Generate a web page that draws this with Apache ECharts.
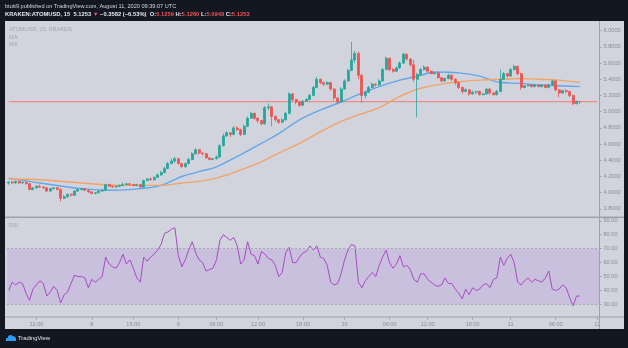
<!DOCTYPE html>
<html>
<head>
<meta charset="utf-8">
<script src="https://cdn.jsdelivr.net/npm/echarts@6/dist/echarts.min.js"></script>
<style>
html,body{margin:0;padding:0;background:#131722;}
#c{width:628px;height:348px;}
</style>
</head>
<body>
<div id="c"></div>
<script>
// ---- data ----
// candles: [open, close, low, high]
var candles = [
[4.12,4.13,4.10,4.14],[4.13,4.12,4.11,4.15],[4.12,4.14,4.11,4.15],[4.14,4.12,4.11,4.15],[4.12,4.13,4.11,4.14],
[4.13,4.11,4.10,4.14],[4.11,4.04,4.03,4.12],[4.04,4.06,4.03,4.07],[4.06,4.08,4.05,4.09],[4.08,4.07,4.06,4.10],
[4.07,4.06,4.05,4.08],[4.06,4.02,4.01,4.07],[4.02,4.05,4.01,4.06],[4.05,4.06,4.04,4.07],[4.06,4.04,4.03,4.07],
[4.04,3.93,3.89,4.05],[3.93,3.95,3.92,3.97],[3.95,3.98,3.94,3.99],[3.98,3.97,3.95,3.99],[3.97,4.02,3.96,4.03],
[4.02,4.04,4.01,4.05],[4.04,4.05,4.03,4.06],[4.05,4.03,4.02,4.06],[4.03,4.01,4.00,4.04],[4.01,3.99,3.98,4.02],
[3.99,4.00,3.98,4.01],[4.00,4.02,3.99,4.03],[4.02,4.03,4.01,4.04],[4.03,4.10,4.02,4.11],[4.10,4.08,4.07,4.11],
[4.08,4.07,4.06,4.09],[4.07,4.08,4.06,4.09],[4.08,4.09,4.07,4.10],[4.09,4.10,4.08,4.13],[4.10,4.11,4.09,4.12],
[4.11,4.10,4.09,4.12],[4.10,4.09,4.08,4.11],[4.09,4.10,4.08,4.11],[4.10,4.07,4.06,4.11],[4.07,4.15,4.06,4.16],
[4.15,4.17,4.14,4.18],[4.17,4.16,4.15,4.19],[4.16,4.19,4.15,4.20],[4.19,4.22,4.18,4.24],[4.22,4.25,4.21,4.27],
[4.25,4.30,4.24,4.32],[4.30,4.36,4.29,4.38],[4.36,4.39,4.35,4.42],[4.39,4.42,4.37,4.44],[4.42,4.36,4.35,4.43],
[4.36,4.32,4.31,4.37],[4.32,4.36,4.31,4.37],[4.36,4.41,4.35,4.43],[4.41,4.48,4.40,4.50],[4.48,4.53,4.47,4.55],
[4.53,4.49,4.47,4.54],[4.49,4.48,4.46,4.50],[4.48,4.43,4.42,4.49],[4.43,4.41,4.40,4.44],[4.41,4.42,4.40,4.43],
[4.42,4.44,4.41,4.46],[4.44,4.58,4.43,4.60],[4.58,4.70,4.57,4.73],[4.70,4.74,4.69,4.76],[4.74,4.72,4.69,4.75],
[4.72,4.80,4.71,4.82],[4.80,4.78,4.76,4.82],[4.78,4.72,4.70,4.79],[4.72,4.82,4.71,4.84],[4.82,4.92,4.81,4.94],
[4.92,4.98,4.91,5.00],[4.98,4.92,4.90,4.99],[4.92,4.89,4.86,4.93],[4.89,4.85,4.83,4.90],[4.85,5.05,4.84,5.07],
[5.05,5.06,5.02,5.10],[5.06,4.94,4.82,5.07],[4.94,4.90,4.88,4.96],[4.90,4.87,4.85,4.91],[4.87,4.90,4.86,4.92],
[4.90,4.98,4.89,5.00],[4.98,5.22,4.97,5.24],[5.22,5.15,5.13,5.23],[5.15,5.12,5.09,5.16],[5.12,5.08,5.06,5.13],
[5.08,5.13,5.07,5.14],[5.13,5.15,5.12,5.17],[5.15,5.20,5.14,5.22],[5.20,5.30,5.19,5.32],[5.30,5.40,5.29,5.43],
[5.40,5.36,5.34,5.41],[5.36,5.34,5.32,5.37],[5.34,5.36,5.33,5.38],[5.36,5.28,5.26,5.37],[5.28,5.17,5.14,5.29],
[5.17,5.12,5.09,5.18],[5.12,5.28,5.11,5.30],[5.28,5.38,5.27,5.40],[5.38,5.51,5.37,5.53],[5.51,5.64,5.50,5.86],
[5.64,5.72,5.60,5.75],[5.72,5.45,5.40,5.74],[5.45,5.20,5.11,5.46],[5.20,5.24,5.17,5.26],[5.24,5.30,5.23,5.32],
[5.30,5.34,5.29,5.36],[5.34,5.33,5.31,5.35],[5.33,5.38,5.32,5.40],[5.38,5.52,5.37,5.54],[5.52,5.66,5.51,5.68],
[5.66,5.52,5.50,5.67],[5.52,5.50,5.48,5.54],[5.50,5.54,5.49,5.56],[5.54,5.60,5.53,5.62],[5.60,5.71,5.59,5.73],
[5.71,5.65,5.63,5.72],[5.65,5.58,5.56,5.66],[5.58,5.40,5.37,5.64],[5.40,5.46,4.93,5.48],[5.46,5.52,5.44,5.54],
[5.52,5.55,5.51,5.57],[5.55,5.50,5.48,5.56],[5.50,5.47,5.46,5.51],[5.47,5.48,5.46,5.49],[5.48,5.42,5.41,5.49],
[5.42,5.38,5.36,5.43],[5.38,5.41,5.37,5.42],[5.41,5.45,5.40,5.47],[5.45,5.40,5.38,5.46],[5.40,5.36,5.33,5.41],
[5.36,5.30,5.28,5.37],[5.30,5.25,5.22,5.31],[5.25,5.27,5.24,5.29],[5.27,5.22,5.20,5.28],[5.22,5.24,5.21,5.26],
[5.24,5.25,5.22,5.26],[5.25,5.21,5.20,5.26],[5.21,5.22,5.20,5.23],[5.22,5.28,5.21,5.29],[5.28,5.23,5.21,5.29],
[5.23,5.21,5.20,5.24],[5.21,5.25,5.20,5.27],[5.25,5.40,5.24,5.52],[5.40,5.47,5.39,5.49],[5.47,5.44,5.42,5.48],
[5.44,5.52,5.43,5.54],[5.52,5.56,5.51,5.58],[5.56,5.47,5.45,5.57],[5.47,5.30,5.27,5.48],[5.30,5.32,5.29,5.33],
[5.32,5.33,5.31,5.34],[5.33,5.31,5.30,5.34],[5.31,5.33,5.30,5.34],[5.33,5.31,5.30,5.34],[5.31,5.33,5.30,5.34],
[5.33,5.30,5.29,5.34],[5.30,5.33,5.29,5.35],[5.33,5.38,5.32,5.39],[5.38,5.27,5.25,5.39],[5.27,5.23,5.18,5.28],
[5.23,5.26,5.22,5.27],[5.26,5.25,5.23,5.28],[5.25,5.20,5.18,5.26],[5.20,5.10,5.08,5.21],[5.10,5.1259,5.09,5.14],
[5.1259,5.1253,5.0948,5.1260]
];
// moving averages: [candle index, value]
var maFast = [[0,4.18],[9,4.12],[21,4.05],[30,4.03],[38,4.05],[44,4.09],[50,4.20],[55,4.26],[60,4.32],[67,4.47],
[73,4.61],[78,4.73],[84,4.90],[90,5.02],[96,5.12],[101,5.21],[107,5.31],[113,5.39],[119,5.45],[123,5.49],
[130,5.48],[136,5.44],[142,5.36],[148,5.35],[153,5.33],[159,5.32],[165,5.31]];
var maSlow = [[0,4.17],[9,4.16],[21,4.12],[32,4.09],[44,4.09],[50,4.12],[55,4.14],[60,4.18],[67,4.28],[73,4.38],
[78,4.49],[84,4.61],[90,4.75],[96,4.88],[101,4.96],[107,5.05],[113,5.19],[119,5.29],[125,5.34],[130,5.37],
[136,5.39],[142,5.40],[148,5.41],[153,5.40],[159,5.39],[165,5.36]];
var rsi = [40,46,44,46,45,38,33,41,44,47,45,36,39,43,40,31,37,39,45,51,
50,50,49,42,48,46,48,50,64,59,57,56,60,66,59,62,56,49,46,64,
61,64,66,69,73,81,82,84,85,65,57,62,69,75,67,62,60,54,55,56,
62,76,80,78,76,78,72,59,62,75,66,65,59,68,66,63,62,58,50,53,
67,71,60,60,64,67,68,72,69,72,64,63,58,46,44,45,52,62,69,73,
72,46,42,47,50,53,50,58,64,69,60,56,59,65,57,58,55,48,46,52,
52,48,46,44,43,44,49,45,45,41,38,34,41,37,42,40,41,44,45,42,
48,49,64,58,63,66,60,46,44,47,49,46,48,47,46,49,54,41,40,41,
44,42,35,29,36,36];
var slotCount = 171;
var timeLabels = ['12:00','8','15:00','9','06:00','12:00','18:00','10','06:00','12:00','18:00','11','06:00','12'];
var timeLabelSlots = [8,24,36,49,60,72,85,97,110,121,134,145,158,170];
var priceTicks = [3.8,4.0,4.2,4.4,4.6,4.8,5.0,5.2,5.4,5.6,5.8,6.0];
var rsiTicks = [30,40,50,60,70,80,90];
var lastPrice = candles[candles.length-1][1];

// ---- chart ----
var cats = [];
for (var i = 0; i < slotCount; i++) cats.push(String(i));
var labelMap = {};
timeLabelSlots.forEach(function(s, k){ labelMap[s] = timeLabels[k]; });
var priceLine = [[0, lastPrice], [slotCount - 1, lastPrice]];

var FONT = 'Liberation Sans, Arial, sans-serif';
var axisGray = '#8a8d96';
var chart = echarts.init(document.getElementById('c'), null, {renderer:'canvas'});
chart.setOption({
  backgroundColor: '#131722',
  animation: false,
  textStyle: {fontFamily: FONT},
  graphic: [
    {type:'rect', z:-100, shape:{x:5,y:21,width:619,height:308}, style:{fill:'#d1d4dc'}},
    {type:'rect', z:100, shape:{x:5,y:216.5,width:619,height:1.5}, style:{fill:'#9ea1aa'}},
    {type:'rect', z:100, shape:{x:5,y:316.5,width:619,height:1}, style:{fill:'#9ea1aa'}},
    {type:'rect', z:100, shape:{x:599,y:21,width:1,height:308}, style:{fill:'#9ea1aa'}},
    {type:'text', z:100, x:5, y:3, style:{text:'btott9 published on TradingView.com, August 11, 2020 09:39:07 UTC', fill:'#d6d8de', font:'5.6px ' + FONT}},
    {type:'text', z:100, x:5, y:11.5, style:{
      text:'{w|KRAKEN:ATOMUSD, 15  5.1253 }{r|▼}{w| −0.3582 (−6.53%)  O:}{r|5.1259}{w| H:}{r|5.1260}{w| L:}{r|5.0948}{w| C:}{r|5.1253}',
      rich:{
        w:{fill:'#e6e8ee', fontSize:5.8, fontWeight:'bold', fontFamily:FONT},
        r:{fill:'#ef5350', fontSize:5.8, fontWeight:'bold', fontFamily:FONT}
      }}},
    {type:'text', z:100, x:9, y:26, style:{text:'ATOMUSD, 15, KRAKEN', fill:'#a2a5ad', font:'5.6px ' + FONT}},
    {type:'text', z:100, x:9, y:34, style:{text:'MA', fill:'#a2a5ad', font:'5.6px ' + FONT}},
    {type:'text', z:100, x:9, y:41.5, style:{text:'MA', fill:'#a2a5ad', font:'5.6px ' + FONT}},
    {type:'text', z:100, x:9, y:222, style:{text:'RSI', fill:'#a2a5ad', font:'5.6px ' + FONT}},
    {type:'circle', z:100, shape:{cx:10.5,cy:337.5,r:2.6}, style:{fill:'#2e9bf0'}},
    {type:'circle', z:100, shape:{cx:13.5,cy:338.5,r:2.2}, style:{fill:'#2e9bf0'}},
    {type:'rect', z:100, shape:{x:6,y:338,width:10,height:3}, style:{fill:'#2e9bf0'}},
    {type:'text', z:100, x:18, y:335.5, style:{text:'TradingView', fill:'#e6e8ee', font:'5.8px ' + FONT}}
  ],
  grid: [
    {left:7, top:21, width:592, height:196},
    {left:7, top:218, width:592, height:99}
  ],
  xAxis: [
    {type:'category', gridIndex:0, data:cats, boundaryGap:true, show:false},
    {type:'category', gridIndex:1, data:cats, boundaryGap:true,
      axisLine:{show:false},
      axisTick:{show:true, alignWithLabel:true, length:2.5, lineStyle:{color:'#9ea1aa'},
        interval:function(idx){ return labelMap.hasOwnProperty(idx); }},
      axisLabel:{show:true, color:axisGray, fontSize:5.6, margin:4.5, fontFamily:FONT,
        interval:function(idx){ return labelMap.hasOwnProperty(idx); },
        formatter:function(v, idx){ return labelMap.hasOwnProperty(idx) ? labelMap[idx] : ''; }},
      splitLine:{show:false}}
  ],
  yAxis: [
    {type:'value', gridIndex:0, position:'right', min:3.70, max:6.12, scale:true,
      axisLine:{show:false},
      axisTick:{show:true, length:2.5, lineStyle:{color:'#9ea1aa'}, customValues:priceTicks},
      axisLabel:{show:true, color:axisGray, fontSize:5.6, margin:4.5, fontFamily:FONT, customValues:priceTicks,
        formatter:function(v){ return v.toFixed(4); }},
      splitLine:{show:false}},
    {type:'value', gridIndex:1, position:'right', min:21, max:92,
      axisLine:{show:false},
      axisTick:{show:true, length:2.5, lineStyle:{color:'#9ea1aa'}, customValues:rsiTicks},
      axisLabel:{show:true, color:axisGray, fontSize:5.6, margin:4.5, fontFamily:FONT, customValues:rsiTicks,
        formatter:function(v){ return v.toFixed(2); }},
      splitLine:{show:false}}
  ],
  series: [
    {type:'line', xAxisIndex:0, yAxisIndex:0, data:priceLine, showSymbol:false, silent:true, z:1,
      color:'#f08c8a', lineStyle:{color:'#f08c8a', width:1.2, opacity:1}},
    {type:'candlestick', xAxisIndex:0, yAxisIndex:0, data:candles, barWidth:2.5, z:4,
      itemStyle:{color:'#26a69a', color0:'#ef5350', borderColor:'#26a69a', borderColor0:'#ef5350', borderWidth:0.8}
    },
    {type:'line', xAxisIndex:0, yAxisIndex:0, data:maFast, smooth:0.4, showSymbol:false,
      lineStyle:{color:'#62a7ea', width:1.4}, z:3},
    {type:'line', xAxisIndex:0, yAxisIndex:0, data:maSlow, smooth:0.4, showSymbol:false,
      lineStyle:{color:'#f2a468', width:1.4}, z:3},
    {type:'line', xAxisIndex:1, yAxisIndex:1, data:rsi, showSymbol:false,
      lineStyle:{color:'#a94bc2', width:1},
      markArea:{silent:true, itemStyle:{color:'#c9c0de'}, data:[[{yAxis:30},{yAxis:70}]]},
      markLine:{silent:true, symbol:['none','none'], label:{show:false},
        lineStyle:{color:'#aaa6ba', width:1, type:[2,2]},
        data:[{yAxis:30},{yAxis:70}]}
    }
  ]
});
</script>
</body>
</html>
